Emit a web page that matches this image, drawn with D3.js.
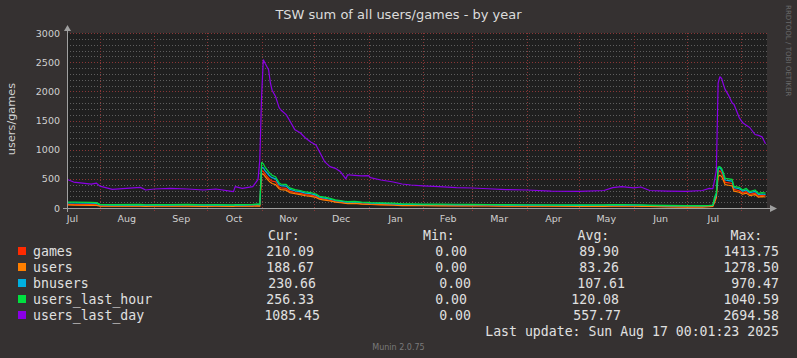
<!DOCTYPE html>
<html><head><meta charset="utf-8">
<script src="https://cdn.jsdelivr.net/npm/d3@7"></script>
<style>html,body{margin:0;padding:0;background:#353131;}svg{display:block}</style>
</head><body>
<svg id="c" width="797" height="358"></svg>
<script>
// ---------- data ----------
const dates = [
"2024-07-13","2024-07-17","2024-07-27","2024-07-30","2024-08-01","2024-08-08","2024-08-24","2024-08-27","2024-09-01","2024-09-10","2024-09-20","2024-09-29","2024-10-06","2024-10-16","2024-10-17","2024-10-21","2024-10-27","2024-10-30","2024-10-31",
"2024-11-01","2024-11-02","2024-11-03","2024-11-05","2024-11-06","2024-11-07","2024-11-09","2024-11-11","2024-11-12","2024-11-15","2024-11-17","2024-11-20","2024-11-23","2024-11-26","2024-11-29",
"2024-12-02","2024-12-04","2024-12-06","2024-12-07","2024-12-10","2024-12-13","2024-12-16","2024-12-19","2024-12-20","2024-12-24","2024-12-28",
"2025-01-01","2025-01-02","2025-01-08","2025-01-15","2025-01-20","2025-01-25",
"2025-02-01","2025-02-10","2025-02-20","2025-03-01","2025-03-10","2025-03-20","2025-04-01","2025-04-15","2025-05-01","2025-05-15","2025-05-20","2025-05-25","2025-06-01","2025-06-05","2025-06-10","2025-06-20","2025-07-01","2025-07-10","2025-07-14","2025-07-16","2025-07-17","2025-07-18","2025-07-19","2025-07-20","2025-07-21","2025-07-22","2025-07-23","2025-07-25","2025-07-27","2025-07-28","2025-07-31","2025-08-02","2025-08-04","2025-08-06","2025-08-09","2025-08-11","2025-08-13","2025-08-15"
];
const games = [
62,60,58,55,38,36,38,34,36,35,38,34,36,33,37,35,38,42,38,
640,630,580,510,480,460,450,360,345,335,290,265,250,230,220,
200,165,155,150,130,110,100,85,84,86,75,
70,68,62,56,48,46,
45,44,42,40,39,38,36,35,34,35,37,38,36,35,32,28,25,26,30,35,120,200,600,640,600,520,440,430,420,320,295,260,280,235,255,205,215,210
];
const users = [
52,48,46,44,32,30,32,28,30,30,32,28,30,28,31,30,32,36,32,
590,580,540,470,440,420,400,330,315,305,265,245,230,210,200,
180,150,140,135,120,100,90,78,76,78,68,
62,60,55,50,42,40,
40,38,36,35,34,32,30,30,28,29,31,32,30,29,26,20,15,16,22,28,100,180,540,560,540,470,400,390,380,290,270,235,255,212,230,185,195,189
];
const bnusers = [
88,86,82,78,52,50,52,48,50,50,52,48,50,47,51,50,53,60,52,
700,690,640,570,540,520,500,400,385,375,320,295,280,255,245,
220,185,175,170,150,128,116,102,100,104,90,
86,84,80,72,62,60,
58,56,55,54,52,50,48,47,46,47,50,52,48,47,43,38,35,36,40,45,150,230,680,690,650,570,480,470,460,350,330,290,310,262,285,230,240,231
];
const users_last_hour = [
100,102,96,92,62,58,62,56,60,58,62,56,58,55,60,58,62,70,60,
780,760,700,620,590,560,535,430,410,405,345,315,300,275,265,
240,200,190,185,165,140,128,112,110,115,100,
95,92,88,82,72,70,
68,66,64,62,60,58,56,55,54,55,58,60,56,55,50,45,40,42,45,50,190,260,700,708,680,600,510,500,490,370,354,309,337,280,309,251,263,256
];
const users_last_day = [
495,445,410,425,375,320,354,309,326,337,326,309,326,280,366,337,366,490,823,
1900,2540,2480,2370,2150,2020,1910,1720,1680,1600,1500,1340,1290,1200,1130,
1080,965,850,790,710,680,620,500,570,560,550,
554,520,480,446,411,394,
380,366,350,343,330,315,309,290,285,300,350,365,345,360,300,290,285,300,337,330,480,650,2140,2250,2220,2120,2030,1930,1800,1780,1550,1460,1420,1380,1260,1245,1220,1100
];
const seriesNames = ["games","users","bnusers","users_last_hour","users_last_day"];
const seriesColors = ["#ff2a00","#ff7f00","#00b0e0","#00e040","#8a00e6"];
const curValues = ["210.09","188.67","230.66","256.33","1085.45"];
const minValues = ["0.00","0.00","0.00","0.00","0.00"];
const avgValues = ["89.90","83.26","107.61","120.08","557.77"];
const maxValues = ["1413.75","1278.50","970.47","1040.59","2694.58"];
const yTickValues = [0,500,1000,1500,2000,2500,3000];
const monthStarts = ["2024-08-01","2024-09-01","2024-10-01","2024-11-01","2024-12-01","2025-01-01","2025-02-01","2025-03-01","2025-04-01","2025-05-01","2025-06-01","2025-07-01","2025-08-01"];
const monthLabelDates = ["2024-07-16","2024-08-16","2024-09-16","2024-10-16","2024-11-16","2024-12-16","2025-01-16","2025-02-15","2025-03-16","2025-04-16","2025-05-16","2025-06-16","2025-07-16"];
const monthLabels = ["Jul","Aug","Sep","Oct","Nov","Dec","Jan","Feb","Mar","Apr","May","Jun","Jul"];
const title = "TSW sum of all users/games - by year";
const yLabel = "users/games";
const lastUpdate = "Last update: Sun Aug 17 00:01:23 2025";

// ---------- drawing ----------
const parse = d3.utcParse("%Y-%m-%d");
const svg = d3.select("#c");
const L = 67, R = 767, T = 33, B = 208;
const x = d3.scaleUtc().domain([new Date(Date.UTC(2024,6,13,5)), new Date(Date.UTC(2025,7,15,20))]).range([L, R]);
const y = d3.scaleLinear().domain([0,3000]).range([B, T]);
const sans = "'DejaVu Sans', Verdana, sans-serif";
const mono = "'DejaVu Sans Mono', monospace";

svg.append("rect").attr("width",797).attr("height",358).attr("fill","#353131");
svg.append("rect").attr("x",L).attr("y",T).attr("width",R-L).attr("height",B-T).attr("fill","#1f1f1f");

// minor horizontal grid
const minor = y.ticks(30).filter(v => v % 500 !== 0);
svg.append("g").selectAll("line").data(minor).join("line")
  .attr("x1",L).attr("x2",R).attr("y1",d=>Math.round(y(d))+0.5).attr("y2",d=>Math.round(y(d))+0.5)
  .attr("stroke","#5e5e5e").attr("stroke-width",1).attr("stroke-dasharray","1,2");
// major horizontal grid
svg.append("g").selectAll("line").data(yTickValues.filter(v=>v>0)).join("line")
  .attr("x1",L).attr("x2",R).attr("y1",d=>Math.round(y(d))+0.5).attr("y2",d=>Math.round(y(d))+0.5)
  .attr("stroke","#8a3636").attr("stroke-width",1).attr("stroke-dasharray","1,2");
// vertical month grid
svg.append("g").selectAll("line").data(monthStarts.map(parse)).join("line")
  .attr("x1",d=>Math.round(x(d))+0.5).attr("x2",d=>Math.round(x(d))+0.5).attr("y1",T).attr("y2",B+3)
  .attr("stroke","#8a3636").attr("stroke-width",1).attr("stroke-dasharray","1,2");

// series lines
svg.append("clipPath").attr("id","clip").append("rect").attr("x",L).attr("y",T-2).attr("width",R-L).attr("height",B-T+2);
const seriesData = [games, users, bnusers, users_last_hour, users_last_day];
const line = d3.line().x((d,i)=>x(parse(dates[i]))).y(d=>y(d));
const lg = svg.append("g").attr("clip-path","url(#clip)");
seriesData.forEach((vals,k)=>{
  lg.append("path").attr("d", line(vals)).attr("fill","none")
    .attr("stroke", seriesColors[k]).attr("stroke-width",1.2).attr("stroke-linejoin","round");
});

// axes lines with arrows
svg.append("line").attr("x1",63).attr("x2",771).attr("y1",B+0.5).attr("y2",B+0.5).attr("stroke","#a0a0a0");
svg.append("line").attr("x1",L+0.5).attr("x2",L+0.5).attr("y1",B+4).attr("y2",29).attr("stroke","#a0a0a0");
svg.append("path").attr("d",`M${L-3},${31} L${L+0.5},${25} L${L+4},${31} Z`).attr("fill","#a0a0a0");
svg.append("path").attr("d",`M${770},${B-3} L${777},${B+0.5} L${770},${B+4} Z`).attr("fill","#a0a0a0");

// y axis labels
const yAxis = svg.append("g").attr("transform",`translate(${L},0)`)
  .call(d3.axisLeft(y).tickValues(yTickValues).tickSize(0).tickPadding(7).tickFormat(d3.format("d")));
yAxis.select(".domain").remove();
yAxis.selectAll("text").attr("fill","#d0d0d0").style("font-family",sans).style("font-size","9.5px");

// x axis labels
const xAxis = svg.append("g").attr("transform",`translate(0,${B})`)
  .call(d3.axisBottom(x).tickValues(monthLabelDates.map(parse)).tickSize(0).tickPadding(7.3)
    .tickFormat((d,i)=>monthLabels[i]));
xAxis.select(".domain").remove();
xAxis.selectAll("text").attr("fill","#d0d0d0").style("font-family",sans).style("font-size","9.5px");

// title
svg.append("text").attr("x",398.5).attr("y",18.5).attr("text-anchor","middle")
  .attr("fill","#dcdcdc").style("font-family",sans).style("font-size","13px").text(title);
// y label
svg.append("text").attr("transform","translate(15,119) rotate(-90)").attr("text-anchor","middle")
  .attr("fill","#d0d0d0").style("font-family",sans).style("font-size","11.3px").text(yLabel);
// rrdtool credit
svg.append("text").attr("transform","translate(786,5) rotate(90)").attr("text-anchor","start")
  .attr("fill","#6a6a6a").style("font-family",sans).style("font-size","7.1px").text("RRDTOOL / TOBI OETIKER");
// munin
svg.append("text").attr("x",398.5).attr("y",350).attr("text-anchor","middle")
  .attr("fill","#7a7a7a").style("font-family",sans).style("font-size","8px").text("Munin 2.0.75");

// legend
const leg = svg.append("g").style("font-family",mono).style("font-size","13.2px").attr("fill","#e0e0e0");
const headers = [["Cur:",268],["Min:",423],["Avg:",577.5],["Max:",730.5]];
headers.forEach(h=>leg.append("text").attr("x",h[1]).attr("y",240).text(h[0]));
const curRight = [314,314,316,314,320];
const minRight = [467,467,471,467,471];
const avgRight = [619,619,625,619,621];
seriesNames.forEach((n,i)=>{
  const by = 256 + 16*i;
  leg.append("rect").attr("x",18).attr("y",247+16*i).attr("width",8).attr("height",8).attr("fill",seriesColors[i]);
  leg.append("text").attr("x",33).attr("y",by).text(n);
  leg.append("text").attr("x",curRight[i]).attr("y",by).attr("text-anchor","end").text(curValues[i]);
  leg.append("text").attr("x",minRight[i]).attr("y",by).attr("text-anchor","end").text(minValues[i]);
  leg.append("text").attr("x",avgRight[i]).attr("y",by).attr("text-anchor","end").text(avgValues[i]);
  leg.append("text").attr("x",779).attr("y",by).attr("text-anchor","end").text(maxValues[i]);
});
leg.append("text").attr("x",779).attr("y",336).attr("text-anchor","end").text(lastUpdate);
</script>
</body></html>
